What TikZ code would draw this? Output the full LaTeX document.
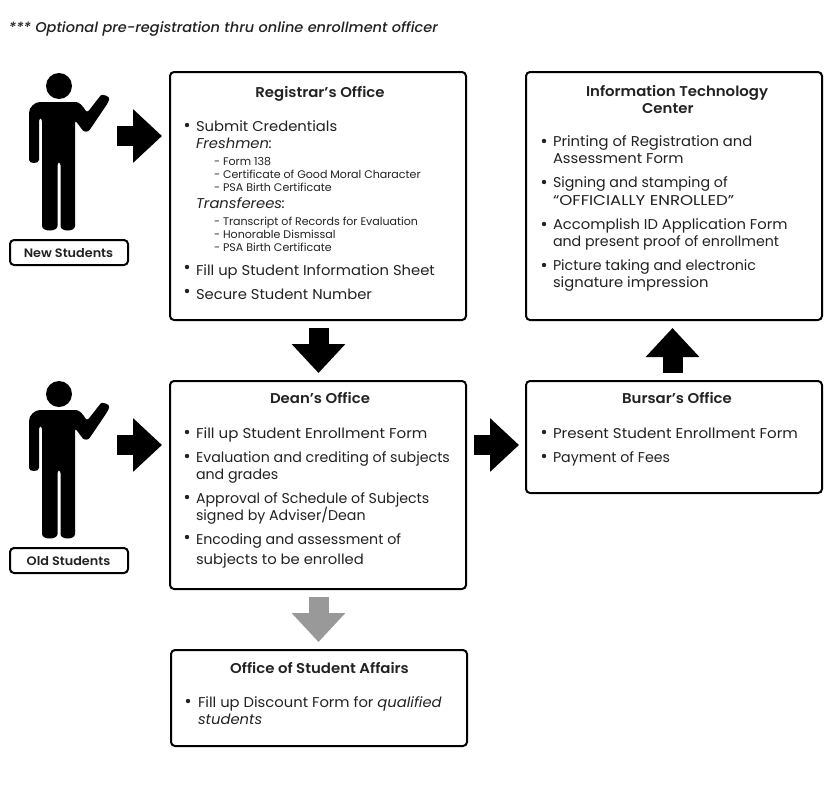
\documentclass[tikz,border=0pt]{standalone}
\usepackage{fontspec}
\usetikzlibrary{arrows.meta}
\setmainfont{Poppins}[FakeStretch=1.04]
\newfontfamily\fplain{Poppins}
\newfontfamily\fwider{Poppins}[FakeStretch=1.06]
\newfontfamily\fcaps{Poppins}[FakeStretch=1.17]
\newfontfamily\fmed{Poppins Medium}[ItalicFont=Poppins Medium Italic,FakeStretch=1.03]
\newfontfamily\fsemi{Poppins SemiBold}[FakeStretch=1.05]
\definecolor{ink}{HTML}{222222}
\definecolor{grayarrow}{HTML}{999999}
\newcounter{tlc}
\tikzset{
  x=1pt,y=-1pt,
  officebox/.style={draw=black,fill=white,line width=2pt,rounded corners=4pt,inner sep=0pt,outer sep=0pt},
  tagbox/.style={officebox,minimum width=118pt,minimum height=25pt},
  tx/.style={inner sep=0pt,outer sep=0pt,anchor=base west,text=ink,font=\fontsize{14.2}{16}\selectfont},
  txtight/.style={tx,font=\fplain\fontsize{14.2}{16}\selectfont},
  txwide/.style={tx,font=\fwider\fontsize{14.2}{16}\selectfont},
  txcaps/.style={tx,font=\fcaps\fontsize{14.2}{16}\selectfont},
  txsmall/.style={tx,font=\fplain\fontsize{11.05}{13}\selectfont},
  txhead/.style={tx,font=\fsemi\fontsize{14.2}{16}\selectfont},
  txtitle/.style={txhead,anchor=base},
  txtag/.style={tx,anchor=base,font=\fsemi\fontsize{12.2}{14}\selectfont},
  txnote/.style={tx,font=\fmed\itshape\fontsize{14.1}{16}\selectfont},
  blockarrow/.style={line width=20pt,draw=black,-{Triangle[length=29pt,width=52pt]},shorten <=8pt,shorten >=8pt},
  personbox/.style={inner sep=0pt,outer sep=0pt,minimum width=79pt,minimum height=157pt},
}
\newcommand\lineat[4][tx]{\stepcounter{tlc}\node[#1] (t\thetlc) at (#2,#3) {#4};}
\newcommand\bulletat[2]{\stepcounter{tlc}\node[inner sep=0pt,outer sep=0pt] (t\thetlc) at (#1,#2) {\tikz[x=1pt,y=1pt]\fill[ink] (0,0) circle (2.2pt);};}
\newcommand\personat[2]{%
  \node[personbox] (#1) at (68.5,151.5+#2) {};
  \begin{scope}[yshift=-#2pt]
    \fill[black] (59,86) circle (13);
    \fill[black,rounded corners=3pt]
      (29,157) -- (29,116)
      .. controls (29,107) and (35,102) .. (43,102)
      -- (73,102) .. controls (79,102) and (83,106) .. (87,113)
      -- (99,97.5) .. controls (102,94) and (110,96) .. (108.5,102)
      -- (91,128) .. controls (88,132) and (84,132) .. (81,128)
      -- (75,120) -- (75,223)
      .. controls (75,232) and (60.5,232) .. (60.5,223)
      -- (60.5,162) -- (57.5,162) -- (57.5,223)
      .. controls (57.5,232) and (42,232) .. (42,223)
      -- (42,118) -- (39,118) -- (39,157)
      .. controls (39,164) and (29,164) .. (29,157) -- cycle;
  \end{scope}}
\begin{document}
\begin{tikzpicture}
\useasboundingbox[fill=white] (0,0) rectangle (840,785);
% boxes
\node[officebox,minimum width=296pt,minimum height=248pt] (reg) at (318,196) {};
\node[officebox,minimum width=296pt,minimum height=248pt] (its) at (674,196) {};
\node[officebox,minimum width=296pt,minimum height=208pt] (dean) at (318,485) {};
\node[officebox,minimum width=296pt,minimum height=112pt] (bur) at (674,437) {};
\node[officebox,minimum width=296pt,minimum height=96pt] (osa) at (319,698) {};
\node[tagbox] (newtag) at (69,252.5) {};
\node[tagbox] (oldtag) at (69,560.5) {};
% people
\personat{pnew}{0}
\personat{pold}{308}
% connectors
\draw[blockarrow,shorten <=9pt] (pnew.east |- 0,136) -- (reg.west |- 0,136);
\draw[blockarrow,shorten <=9pt] (pold.east |- 0,445) -- (dean.west |- 0,445);
\draw[blockarrow] ([xshift=.5pt]reg.south) -- ([xshift=.5pt]dean.north);
\draw[blockarrow,draw=grayarrow] ([xshift=.5pt]dean.south) -- ([xshift=.5pt]dean.south |- osa.north);
\draw[blockarrow,shorten >=7pt] (dean.east |- 0,445) -- (bur.west |- 0,445);
\draw[blockarrow] ([xshift=-1.5pt]bur.north) -- ([xshift=-1.5pt]its.south);
% texts
\lineat[txnote]{9}{32}{*** Optional pre-registration thru online enrollment officer}
\lineat[txtag]{68.5}{257}{New Students}
\lineat[txtag]{68.5}{565}{Old Students}
% registrar
\lineat[txtitle]{320}{97}{Registrar’s Office}
\bulletat{187}{125}
\lineat{196}{131}{Submit Credentials}
\lineat{196}{148}{\itshape Freshmen:}
\lineat[txsmall]{214}{165}{- Form 138}
\lineat[txsmall]{214}{178}{- Certificate of Good Moral Character}
\lineat[txsmall]{214}{191}{- PSA Birth Certificate}
\lineat{196}{208}{\itshape Transferees:}
\lineat[txsmall]{214}{225}{- Transcript of Records for Evaluation}
\lineat[txsmall]{214}{238}{- Honorable Dismissal}
\lineat[txsmall]{214}{251}{- PSA Birth Certificate}
\bulletat{187}{267}
\lineat{196}{275}{Fill up Student Information Sheet}
\bulletat{187}{291}
\lineat{196}{299}{Secure Student Number}
% IT
\lineat[txhead]{586}{96}{Information Technology}
\lineat[txhead]{642}{113}{Center}
\bulletat{544}{141}
\lineat{553}{146}{Printing of Registration and}
\lineat{553}{163}{Assessment Form}
\bulletat{544}{182}
\lineat[txtight]{553}{187}{Signing and stamping of}
\lineat[txcaps]{553}{205}{“OFFICIALLY ENROLLED”}
\bulletat{544}{224}
\lineat{553}{229}{Accomplish ID Application Form}
\lineat[txtight]{553}{246}{and present proof of enrollment}
\bulletat{544}{265}
\lineat[txtight]{553}{270}{Picture taking and electronic}
\lineat{553}{287}{signature impression}
% Dean
\lineat[txtitle]{320}{403.5}{Dean’s Office}
\bulletat{187}{432}
\lineat[txwide]{196}{438}{Fill up Student Enrollment Form}
\bulletat{187}{456}
\lineat[txtight]{196}{462}{Evaluation and crediting of subjects}
\lineat[txtight]{196}{479}{and grades}
\bulletat{187}{497}
\lineat[txtight]{196}{503}{Approval of Schedule of Subjects}
\lineat[txtight]{196}{520}{signed by Adviser/Dean}
\bulletat{187}{537}
\lineat[txtight]{196}{544}{Encoding and assessment of}
\lineat{196}{564}{subjects to be enrolled}
% Bursar
\lineat[txtitle]{677}{403.5}{Bursar’s Office}
\bulletat{544}{432}
\lineat[txwide]{553}{438}{Present Student Enrollment Form}
\bulletat{544}{456}
\lineat[txtight]{553}{462}{Payment of Fees}
% OSA
\lineat[txtitle]{319.5}{673}{Office of Student Affairs}
\bulletat{188}{701}
\lineat{198}{707}{Fill up Discount Form for \itshape qualified}
\lineat{198}{724}{\itshape students}
\end{tikzpicture}
\end{document}
